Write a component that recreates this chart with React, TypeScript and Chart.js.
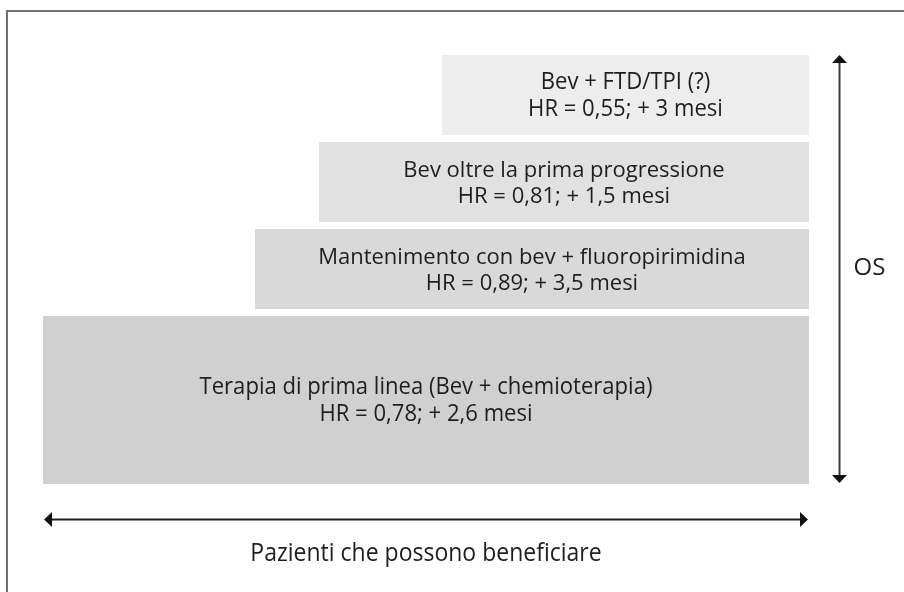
import { useEffect, useRef } from 'react';
import { Chart, registerables } from 'chart.js';

Chart.register(...registerables);

// ---- Data ----
const stepLabels = [
  'Terapia di prima linea (Bev + chemioterapia)',
  'Mantenimento con bev + fluoropirimidina',
  'Bev oltre la prima progressione',
  'Bev + FTD/TPI (?)',
];
const hrLabels = [
  'HR = 0,78; + 2,6 mesi',
  'HR = 0,89; + 3,5 mesi',
  'HR = 0,81; + 1,5 mesi',
  'HR = 0,55; + 3 mesi',
];
// share of patients who may benefit (x, 0-100)
const patientStart = [0, 27.7, 36.0, 52.1];
const patientEnd = [100, 100, 100, 100];
// OS range (y, 0-100)
const osBottom = [0, 40.9, 61.1, 81.4];
const osTop = [39.2, 59.4, 79.7, 100];
const xAxisTitle = 'Pazienti che possono beneficiare';
const yAxisTitle = 'OS';

// ---- Styles ----
const boxColors = ['#d0d0d0', '#d9d9d9', '#e1e1e1', '#ededed'];
const condensed = [true, false, false, true];
const textColor = '#1e1e1e';
const regularFont = '22px "Open Sans"';
const osFont = '24px "Open Sans"';
const condFont = '24px "Open Sans"';
const xTitleFont = '25px "Open Sans"';
const condScale = 0.92;

function drawText(ctx: CanvasRenderingContext2D, text: string, x: number, y: number, font: string, scaleX: number) {
  ctx.save();
  ctx.translate(x, y);
  ctx.font = font;
  ctx.scale(scaleX, 1);
  ctx.fillStyle = textColor;
  ctx.textAlign = 'center';
  ctx.textBaseline = 'middle';
  ctx.fillText(text, 0, 0);
  ctx.restore();
}

function arrowHead(ctx: CanvasRenderingContext2D, tipX: number, tipY: number, dx: number, dy: number) {
  const len = 8;
  const half = 7.5;
  const bx = tipX - dx * len;
  const by = tipY - dy * len;
  ctx.beginPath();
  ctx.moveTo(tipX, tipY);
  ctx.lineTo(bx - dy * half, by + dx * half);
  ctx.lineTo(bx + dy * half, by - dx * half);
  ctx.closePath();
  ctx.fill();
}

const diagramPlugin = {
  id: 'stepDiagram',
  afterDraw(chart: any) {
    const { ctx, scales } = chart;
    const xs = scales.x;
    const ys = scales.y;
    ctx.save();

    // frame
    ctx.strokeStyle = '#707070';
    ctx.lineWidth = 2;
    ctx.beginPath();
    ctx.moveTo(7, chart.height + 2);
    ctx.lineTo(7, 11);
    ctx.lineTo(chart.width + 2, 11);
    ctx.stroke();

    // boxes
    for (let i = 0; i < stepLabels.length; i++) {
      const l = Math.round(xs.getPixelForValue(patientStart[i]));
      const r = Math.round(xs.getPixelForValue(patientEnd[i]));
      const t = Math.round(ys.getPixelForValue(osTop[i]));
      const b = Math.round(ys.getPixelForValue(osBottom[i]));
      ctx.fillStyle = boxColors[i];
      ctx.fillRect(l, t, r - l, b - t);
      const cx = (l + r) / 2;
      const cy = (t + b) / 2;
      const font = condensed[i] ? condFont : regularFont;
      const sx = condensed[i] ? condScale : 1;
      const gap = condensed[i] ? 13.5 : 13;
      const off = condensed[i] ? 1 : 1.5;
      drawText(ctx, stepLabels[i], cx, cy - gap + off, font, sx);
      drawText(ctx, hrLabels[i], cx, cy + gap + off, font, sx);
    }

    // vertical OS arrow
    const ax = Math.round(xs.getPixelForValue(103.9)) + 0.5;
    const aTop = ys.getPixelForValue(100);
    const aBot = ys.getPixelForValue(0) - 1;
    ctx.strokeStyle = '#3a3a3a';
    ctx.fillStyle = '#111';
    ctx.lineWidth = 2;
    ctx.beginPath();
    ctx.moveTo(ax, aTop + 6);
    ctx.lineTo(ax, aBot - 6);
    ctx.stroke();
    arrowHead(ctx, ax, aTop, 0, -1);
    arrowHead(ctx, ax, aBot, 0, 1);
    drawText(ctx, yAxisTitle, ax + 30, ys.getPixelForValue(50) - 1, osFont, 1);

    // horizontal patients arrow
    const hy = Math.round(ys.getPixelForValue(-8.2)) + 0.5;
    const hl = xs.getPixelForValue(0) + 1;
    const hr = xs.getPixelForValue(100) - 1;
    ctx.strokeStyle = '#222';
    ctx.beginPath();
    ctx.moveTo(hl + 6, hy);
    ctx.lineTo(hr - 6, hy);
    ctx.stroke();
    arrowHead(ctx, hl, hy, -1, 0);
    arrowHead(ctx, hr, hy, 1, 0);
    drawText(ctx, xAxisTitle, (hl + hr) / 2, hy + 34, xTitleFont, condScale);

    ctx.restore();
  },
};

export default function App() {
  const ref = useRef<HTMLCanvasElement | null>(null);
  useEffect(() => {
    document.body.style.margin = '0';
    if (!ref.current) return;
    const chart = new Chart(ref.current, {
      type: 'scatter',
      data: { datasets: [{ data: [], pointRadius: 0 }] },
      options: {
        animation: false,
        responsive: false,
        layout: { padding: { left: 43, right: 95, top: 55, bottom: 108 } },
        plugins: { legend: { display: false }, tooltip: { enabled: false } },
        scales: {
          x: { type: 'linear', min: 0, max: 100, display: false },
          y: { type: 'linear', min: 0, max: 100, display: false },
        },
      },
      plugins: [diagramPlugin],
    });
    return () => chart.destroy();
  }, []);
  return (
    <div style={{ width: 904, height: 592, background: '#fff' }}>
      <canvas ref={ref} width={904} height={592} style={{ display: 'block' }} />
    </div>
  );
}
